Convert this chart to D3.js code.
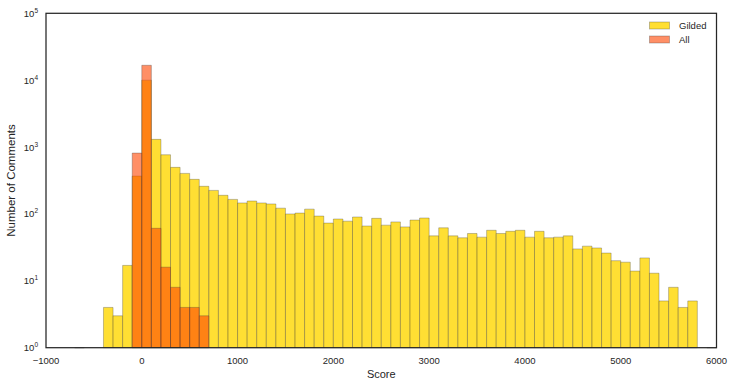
<!DOCTYPE html>
<html>
<head>
<meta charset="utf-8">
<script src="https://cdn.jsdelivr.net/npm/d3@7"></script>
<style>
  html, body { margin: 0; padding: 0; background: #fff; }
  svg { display: block; font-family: "Liberation Sans", Arial, sans-serif; }
</style>
</head>
<body>
<svg id="chart" width="734" height="386"></svg>
<script>
// ---- data ----
const binStarts = [-700,-600,-500,-400,-300,-200,-100,0,100,200,300,400,500,600,700,800,900,1000,
  1100,1200,1300,1400,1500,1600,1700,1800,1900,2000,2100,2200,2300,2400,2500,2600,2700,2800,2900,
  3000,3100,3200,3300,3400,3500,3600,3700,3800,3900,4000,4100,4200,4300,4400,4500,4600,4700,4800,
  4900,5000,5100,5200,5300,5400,5500,5600,5700,5800,5900];
const binWidth = 100;
const gildedCounts = [1,0,0,4,3,17,368,10000,1303,767,497,404,329,259,225,190,165,146,
  156,146,141,122,100,103,118,93,73,84,78,90,66,86,68,76,64,81,87,
  47,62,47,44,51,45,57,51,55,57,45,55,44,45,47,30,33,31,26,
  20,19,14,22,13,5,8,4,5,0,1];
const allCounts = [0,0,0,0,0,0,813,16700,61,16,8,4,4,3,0,0,0,0,
  0,0,0,0,0,0,0,0,0,0,0,0,0,0,0,0,0,0,0,
  0,0,0,0,0,0,0,0,0,0,0,0,0,0,0,0,0,0,0,
  0,0,0,0,0,0,0,0,0,0,0];
const xTicks = [-1000,0,1000,2000,3000,4000,5000,6000];
const yTickExps = [0,1,2,3,4,5];
const seriesNames = ["Gilded","All"];
const seriesColors = ["#FFD700","#FF4500"];
const seriesAlpha = [0.8,0.6];

// ---- layout ----
const svg = d3.select("#chart");
const m = {left:46, right:734-716.5, top:13.3, bottom:386-347.7};
const W = 734, H = 386;
const x = d3.scaleLinear().domain([-1000,6000]).range([m.left, W-m.right]);
const y = d3.scaleLog().domain([1,1e5]).range([H-m.bottom, m.top]);

function barPath(x0, x1, v) {
  const yb = y(1), yt = y(Math.max(v,1));
  return `M${x0},${yb}V${yt}H${x1}V${yb}Z`;
}

const series = [gildedCounts, allCounts];
series.forEach((counts, si) => {
  svg.append("g")
    .selectAll("path")
    .data(binStarts.map((b,i)=>({b, v:counts[i]})).filter(d=>d.v>0))
    .join("path")
      .attr("d", d => barPath(x(d.b), x(d.b+binWidth), d.v))
      .attr("fill", seriesColors[si])
      .attr("fill-opacity", seriesAlpha[si])
      .attr("stroke", "#3a3a3a")
      .attr("stroke-opacity", 0.35)
      .attr("stroke-width", 0.9);
});

// frame
svg.append("rect")
  .attr("x", m.left).attr("y", m.top)
  .attr("width", W-m.right-m.left).attr("height", H-m.bottom-m.top)
  .attr("fill","none").attr("stroke","#262626").attr("stroke-width",1.25);

// x axis labels
const xg = svg.append("g");
xg.selectAll("text").data(xTicks).join("text")
  .attr("x", d => x(d)).attr("y", H-m.bottom+16)
  .attr("text-anchor","middle").attr("font-size", 9.5).attr("fill","#262626")
  .text(d => d3.format("")(d).replace("-", "\u2212"));

// y axis labels (10^n)
const yg = svg.append("g");
yTickExps.forEach(e => {
  const t = yg.append("text")
    .attr("x", m.left-8).attr("y", y(Math.pow(10,e))+3.5)
    .attr("text-anchor","end").attr("font-size", 9.5).attr("fill","#262626");
  t.append("tspan").text("10");
  t.append("tspan").attr("font-size",6.5).attr("dy",-4).text(String(e));
});

// axis titles
svg.append("text").attr("x", (m.left + W-m.right)/2).attr("y", 378)
  .attr("text-anchor","middle").attr("font-size",11).attr("fill","#262626").text("Score");
svg.append("text").attr("transform", `translate(15,${(m.top + H-m.bottom)/2}) rotate(-90)`)
  .attr("text-anchor","middle").attr("font-size",11.5).attr("fill","#262626").text("Number of Comments");

// legend
const lg = svg.append("g");
seriesNames.forEach((name,i) => {
  const yy = 22 + i*14;
  lg.append("rect").attr("x",649.5).attr("y",yy).attr("width",20).attr("height",7)
    .attr("fill",seriesColors[i]).attr("fill-opacity",seriesAlpha[i])
    .attr("stroke","#3a3a3a").attr("stroke-opacity",0.35).attr("stroke-width",0.9);
  lg.append("text").attr("x",679).attr("y",yy+7).attr("font-size",9.5).attr("fill","#262626").text(name);
});
</script>
</body>
</html>
